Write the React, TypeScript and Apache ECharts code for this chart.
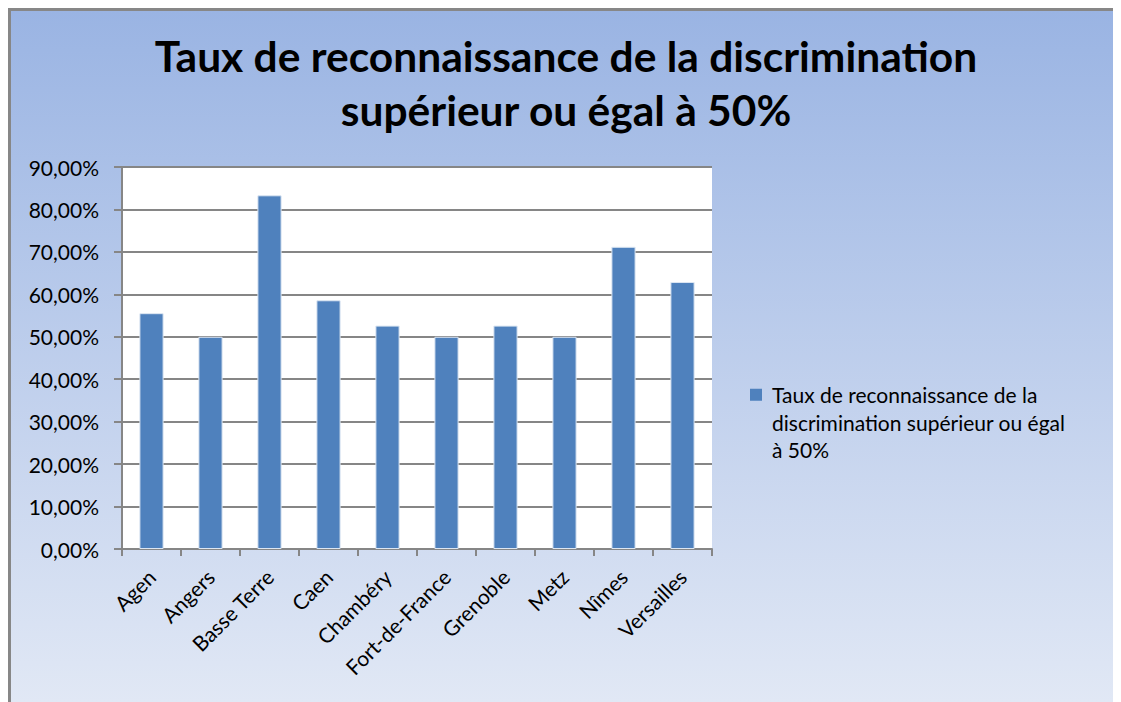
import React, { useEffect, useRef } from "react";
import * as echarts from "echarts";

const TITLE = "Taux de reconnaissance de la discrimination\nsupérieur ou égal à 50%";
const SERIES_NAME = "Taux de reconnaissance de la discrimination supérieur ou égal à 50%";
const LEGEND_LINES = ["Taux de reconnaissance de la", "discrimination supérieur ou égal", "à 50%"];
const categories = ["Agen", "Angers", "Basse Terre", "Caen", "Chambéry", "Fort-de-France", "Grenoble", "Metz", "Nîmes", "Versailles"];
const values = [55.56, 50.0, 83.33, 58.6, 52.63, 50.0, 52.63, 50.0, 71.2, 62.9];
const yMin = 0;
const yMax = 90;
const yInterval = 10;

const FONT = "Lato";
// legend icon: square aligned with the first line of the 3-line legend text
const LEGEND_ICON = "path://M0,7.75H12V19.75H0Z M17,82.5L16.99,82.5 M0,0L0.01,0";

export default function App() {
  const ref = useRef<HTMLDivElement>(null);
  useEffect(() => {
    if (!ref.current) return;
    const chart = echarts.init(ref.current, null, { renderer: "svg" });
    chart.setOption({
      animation: false,
      backgroundColor: {
        type: "linear",
        x: 0, y: 0, x2: 0, y2: 1,
        colorStops: [
          { offset: 0, color: "#9AB4E3" },
          { offset: 1, color: "#E1E8F5" },
        ],
      },
      title: {
        text: TITLE,
        left: "center",
        top: 12,
        padding: [5, 0, 5, 7],
        textStyle: {
          fontFamily: FONT,
          fontWeight: "bold",
          fontSize: 42.5,
          lineHeight: 54,
          color: "#000",
        },
      },
      grid: { left: 111, right: 409, top: 156, bottom: 153, containLabel: false, show: true, backgroundColor: "#fff", borderWidth: 0 },
      legend: {
        show: true,
        left: 739,
        top: 370,
        padding: 0,
        orient: "vertical",
        itemWidth: 17,
        itemHeight: 82.5,
        icon: LEGEND_ICON,
        itemStyle: { borderWidth: 0, color: "#4F81BD" },
        formatter: () => LEGEND_LINES.join("\n"),
        textStyle: {
          fontFamily: FONT,
          fontSize: 21,
          lineHeight: 27.5,
          color: "#000",
        },
      },
      xAxis: {
        type: "category",
        data: categories,
        axisLine: { lineStyle: { color: "#868686", width: 2 } },
        axisTick: { show: true, length: 7, lineStyle: { color: "#868686", width: 2 } },
        axisLabel: {
          rotate: 45,
          interval: 0,
          margin: 24,
          fontFamily: FONT,
          fontSize: 21,
          color: "#000",
        },
      },
      yAxis: {
        type: "value",
        min: yMin,
        max: yMax,
        interval: yInterval,
        axisLine: { show: true, lineStyle: { color: "#868686", width: 2 } },
        axisTick: { show: true, length: 8, lineStyle: { color: "#868686", width: 2 } },
        splitLine: { lineStyle: { color: "#868686", width: 2 } },
        axisLabel: {
          margin: 23,
          fontFamily: FONT,
          fontSize: 21,
          color: "#000",
          formatter: (v: number) => v.toFixed(2).replace(".", ",") + "%",
        },
      },
      series: [
        {
          name: SERIES_NAME,
          type: "bar",
          data: values,
          barWidth: "41%",
          itemStyle: { color: "#4F81BD", borderColor: "#DCE6F2", borderWidth: 1 },
        },
      ],
    });
    return () => chart.dispose();
  }, []);
  return (
    <div
      style={{
        width: 1113,
        height: 694,
        boxSizing: "border-box",
        borderTop: "3px solid #878787",
        borderLeft: "3px solid #878787",
      }}
    >
      <div ref={ref} style={{ width: 1110, height: 691 }} />
    </div>
  );
}
